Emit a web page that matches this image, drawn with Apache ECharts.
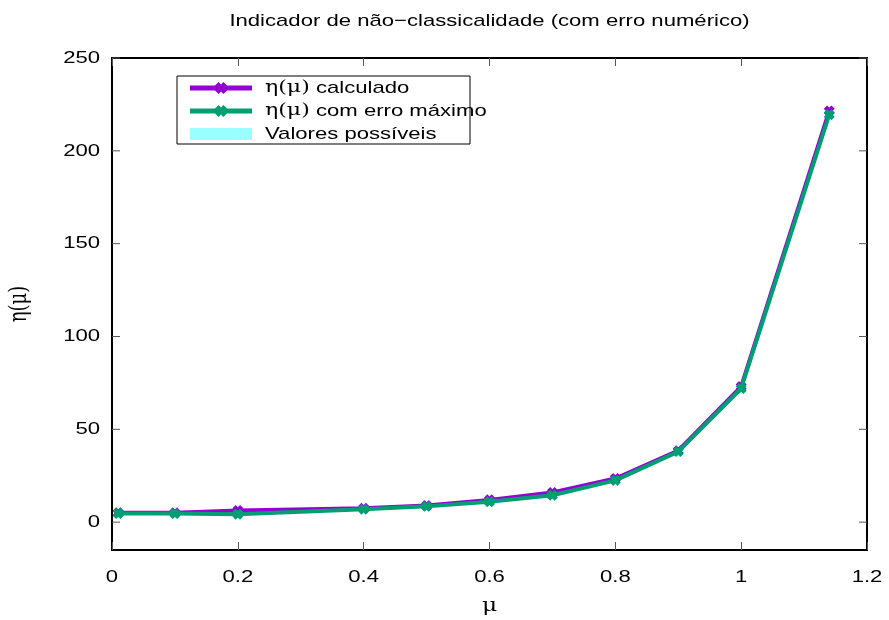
<!DOCTYPE html>
<html>
<head>
<meta charset="utf-8">
<script src="https://cdn.jsdelivr.net/npm/echarts@6/dist/echarts.min.js"></script>
<style>html,body{margin:0;padding:0;background:#fff;}#c{width:889px;height:620px;}</style>
</head>
<body>
<div id="c"></div>
<script>
var muValues = [0.01, 0.1, 0.2, 0.4, 0.5, 0.6, 0.7, 0.8, 0.9, 1.0, 1.14];
var etaCalc = [5, 5, 6.3, 7.5, 9, 12, 16, 23.5, 38.5, 73, 221.5];
var etaErr = [4.6, 4.6, 4.3, 7, 8.5, 11, 14.5, 22.5, 38, 72, 219.5];
var xTicks = [0, 0.2, 0.4, 0.6, 0.8, 1, 1.2];
var yTicks = [0, 50, 100, 150, 200, 250];
var seriesNames = ['η(μ) calculado', 'η(μ) com erro máximo', 'Valores possíveis'];
var titleText = 'Indicador de não\u2212classicalidade (com erro numérico)';

var FONT = 'Liberation Sans, Arial, sans-serif';
var SERIF = 'DejaVu Serif, serif';
var SX = 1.3;
var PURPLE = '#9400d3', GREEN = '#009e73', CYAN = '#99ffff';
var chart = echarts.init(document.getElementById('c'));
var markerPath = 'path://M0,3 L3,0 L5,2 L7,0 L10,3 L8,5 L10,7 L7,10 L5,8 L3,10 L0,7 L2,5 Z';
var markerPts = [[0,3],[3,0],[5,2],[7,0],[10,3],[8,5],[10,7],[7,10],[5,8],[3,10],[0,7],[2,5]];

var tickStyle = {show: true, inside: true, length: 8, lineStyle: {color: '#555', width: 1}};

var option = {
  animation: false,
  backgroundColor: '#fff',
  grid: {left: 112, right: 22, top: 58, bottom: 70, show: true, borderColor: '#000', borderWidth: 2, backgroundColor: 'transparent'},
  xAxis: [
    {
      type: 'value', min: 0, max: 1.2, interval: 0.2,
      axisLine: {show: false, onZero: false}, splitLine: {show: false}, axisTick: tickStyle,
      axisLabel: {show: false}
    },
    {
      type: 'value', min: 0, max: 1.2, interval: 0.2, position: 'top',
      axisLine: {show: false, onZero: false}, splitLine: {show: false}, axisTick: tickStyle,
      axisLabel: {show: false}
    }
  ],
  yAxis: [
    {type: 'value', min: -15, max: 250, axisLine: {show: false}, splitLine: {show: false},
      axisTick: {show: false}, axisLabel: {show: false}}
  ],
  series: [
    {
      name: seriesNames[2],
      type: 'custom',
      xAxisIndex: 0, yAxisIndex: 0,
      itemStyle: {color: CYAN},
      z: 1,
      data: muValues.map(function (x, i) { return [x, etaErr[i], etaCalc[i]]; }),
      renderItem: function (params, api) {
        var i = params.dataIndex;
        if (i >= muValues.length - 1) return null;
        var p = [
          api.coord([muValues[i], etaErr[i]]),
          api.coord([muValues[i + 1], etaErr[i + 1]]),
          api.coord([muValues[i + 1], etaCalc[i + 1]]),
          api.coord([muValues[i], etaCalc[i]])
        ];
        return {type: 'polygon', shape: {points: p}, style: {fill: CYAN}};
      }
    },
    {
      name: seriesNames[0],
      type: 'line',
      data: muValues.map(function (x, i) { return [x, etaCalc[i]]; }),
      color: PURPLE,
      lineStyle: {width: 4, color: PURPLE},
      itemStyle: {color: PURPLE},
      symbol: markerPath, symbolSize: 11, showAllSymbol: true,
      z: 3
    },
    {
      name: seriesNames[1],
      type: 'line',
      data: muValues.map(function (x, i) { return [x, etaErr[i]]; }),
      color: GREEN,
      lineStyle: {width: 4, color: GREEN},
      itemStyle: {color: GREEN},
      symbol: markerPath, symbolSize: 11, showAllSymbol: true,
      z: 4
    }
  ]
};
chart.setOption(option);

function stext(x, y, txt, size, align, font, extra) {
  var o = {type: 'text', x: x, y: y, scaleX: SX, z: 100,
    style: {text: txt, font: size + 'px ' + (font || FONT), fill: '#000', align: align || 'center', verticalAlign: 'middle'}};
  if (extra) for (var k in extra) o[k] = extra[k];
  return o;
}
function richLabel(x, y, name) {
  // η(μ) in serif, rest in sans
  if (name.indexOf('η(μ)') === 0) {
    return {type: 'text', x: x, y: y, scaleX: SX, z: 100,
      style: {text: '{g|η(μ)}{s|' + name.slice(4) + '}', align: 'left', verticalAlign: 'middle',
        rich: {g: {font: '17px ' + SERIF, fill: '#000'}, s: {font: '17px ' + FONT, fill: '#000'}}}};
  }
  return stext(x, y, name, 17, 'left');
}

var g = [];
var l = chart.convertToPixel({xAxisIndex: 0}, 0);
var r = chart.convertToPixel({xAxisIndex: 0}, 1.2);
var b = chart.convertToPixel({yAxisIndex: 0}, -15);
var t = chart.convertToPixel({yAxisIndex: 0}, 250);
yTicks.forEach(function (v) {
  var p = chart.convertToPixel({yAxisIndex: 0}, v);
  g.push(stext(l - 12, p, String(v), 17, 'right'));
  g.push({type: 'line', shape: {x1: l, y1: p, x2: l + 8, y2: p}, style: {stroke: '#555', lineWidth: 1}});
  g.push({type: 'line', shape: {x1: r - 8, y1: p, x2: r, y2: p}, style: {stroke: '#555', lineWidth: 1}});
});
xTicks.forEach(function (v) {
  var p = chart.convertToPixel({xAxisIndex: 0}, v);
  g.push(stext(p, b + 27, String(v), 17, 'center'));
});
// title
g.push(stext((l + r) / 2, 21, titleText, 17, 'center'));
// axis names
g.push(stext((l + r) / 2, b + 56, 'μ', 18, 'center', SERIF));
g.push({type: 'text', x: 20, y: (t + b) / 2, rotation: Math.PI / 2, scaleY: SX, z: 100,
  style: {text: 'η(μ)', font: '18px ' + SERIF, fill: '#000', align: 'center', verticalAlign: 'middle'}});

// legend
var lx = 177, ly = 76, lw = 293, lh = 68;
g.push({type: 'rect', shape: {x: lx, y: ly, width: lw, height: lh}, style: {fill: '#fff', stroke: '#000', lineWidth: 1}, z: 90});
var rowsY = [88, 111, 134];
var colors = [PURPLE, GREEN];
[0, 1].forEach(function (k) {
  var y = rowsY[k];
  g.push({type: 'line', shape: {x1: 190, y1: y, x2: 252, y2: y}, style: {stroke: colors[k], lineWidth: 5}, z: 95});
  var s = 1.2, cx = 221 - 5 * s, cyy = y - 5 * s;
  g.push({type: 'polygon', shape: {points: markerPts.map(function (q) { return [cx + q[0] * s, cyy + q[1] * s]; })}, style: {fill: colors[k]}, z: 96});
  g.push(richLabel(265, y, seriesNames[k]));
});
g.push({type: 'rect', shape: {x: 190, y: rowsY[2] - 6, width: 62, height: 12}, style: {fill: CYAN}, z: 95});
g.push(richLabel(265, rowsY[2], seriesNames[2]));

chart.setOption({graphic: g});
</script>
</body>
</html>
